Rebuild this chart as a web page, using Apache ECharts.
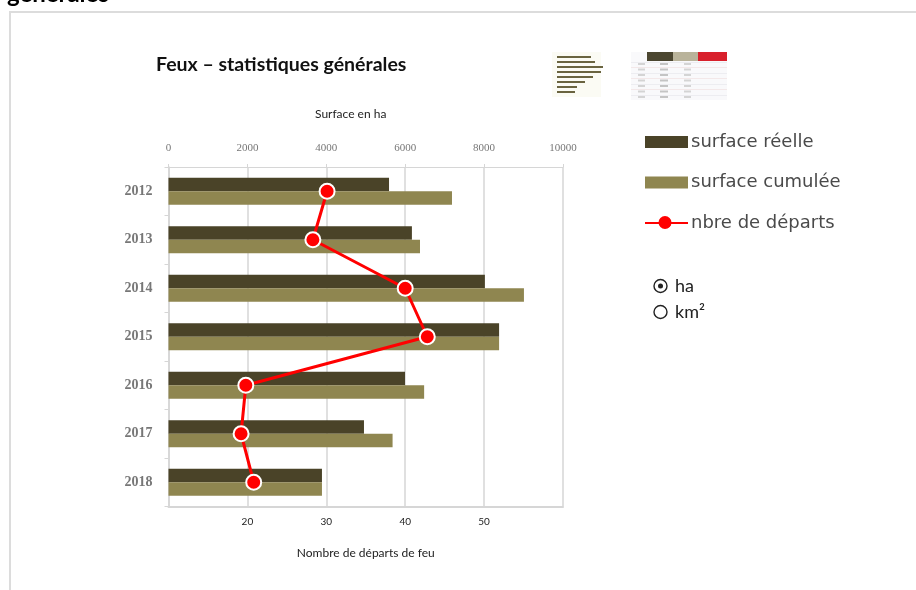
<!DOCTYPE html>
<html><head><meta charset="utf-8">
<style>html,body{margin:0;padding:0;background:#fff}#c{width:916px;height:590px}</style>
<script src="https://cdn.jsdelivr.net/npm/echarts@6/dist/echarts.min.js"></script></head>
<body><div id="c"></div>
<script>
const categories = ['2012','2013','2014','2015','2016','2017','2018'];
const surfaceReelle = [5590,6170,8020,8380,5995,4955,3890];
const surfaceCumulee = [7186,6375,9010,8380,6480,5680,3890];
const departs = [30.1,28.3,40,42.8,19.8,19.2,20.8];
const thumbRows = [34,38,46,44,36,28,20,18];
const tableRows = [1,2,3,4,5,6,7];

const chart = echarts.init(document.getElementById('c'), null, {renderer:'canvas'});
const gridC = '#d6d6d6', labC = '#777777';
const gfx = [
  {type:'polyline',shape:{points:[[10,590],[10,12],[916,12]]},style:{stroke:'#dcdcdc',lineWidth:2,fill:null}},
  {type:'text',left:7,top:-18,style:{text:'générales',font:'bold 24px Lato',fill:'#000'}},
  {type:'text',left:315,top:108,style:{text:'Surface en ha',font:'12px Lato',fill:'#222'}},
  {type:'rect',shape:{x:552,y:52,width:49,height:45},style:{fill:'#fbfbf4'}},
  {type:'rect',shape:{x:631,y:52,width:96,height:48},style:{fill:'#f9f9fb'}},
  {type:'rect',shape:{x:647,y:52,width:26,height:9},style:{fill:'#4b4630'}},
  {type:'rect',shape:{x:673,y:52,width:25,height:9},style:{fill:'#b9b39a'}},
  {type:'rect',shape:{x:698,y:52,width:29,height:9},style:{fill:'#d8202c'}},
  {type:'circle',shape:{cx:660.5,cy:286,r:6.5},style:{fill:'#fff',stroke:'#222',lineWidth:1.4}},
  {type:'circle',shape:{cx:660.5,cy:286,r:2.5},style:{fill:'#222'}},
  {type:'circle',shape:{cx:660.5,cy:312,r:6.5},style:{fill:'#fff',stroke:'#222',lineWidth:1.4}},
  {type:'text',left:675,top:277,style:{text:'ha',font:'18px Lato',fill:'#222'}},
  {type:'text',left:675,top:303,style:{text:'km²',font:'18px Lato',fill:'#222'}},
  {type:'circle',shape:{cx:665,cy:222.5,r:6.5},style:{fill:'#ff0000'},z:10}
];
thumbRows.forEach((w,i)=>gfx.push({type:'rect',shape:{x:557,y:56+i*5,width:w,height:2},style:{fill:'#6a6440'}}));
tableRows.forEach((r,i)=>{
  gfx.push({type:'rect',shape:{x:631,y:62+i*5.5,width:96,height:0.6},style:{fill:i%2?'#eed8d8':'#e2e2e8'}});
  gfx.push({type:'rect',shape:{x:638,y:63+i*5.5,width:7,height:2},style:{fill:'#d4d4d4'}});
  gfx.push({type:'rect',shape:{x:660,y:63+i*5.5,width:8,height:2},style:{fill:'#c4c4c4'}});
  gfx.push({type:'rect',shape:{x:684,y:63+i*5.5,width:7,height:2},style:{fill:'#d4d4d4'}});
});
chart.setOption({
  animation:false,
  backgroundColor:'#fff',
  textStyle:{fontFamily:'Lato'},
  title:{text:'Feux – statistiques générales',left:156,top:55,padding:0,
    textStyle:{fontFamily:'Lato',fontWeight:'bold',fontSize:19.5,color:'#111'}},
  legend:{orient:'vertical',left:644,top:133,itemWidth:43,itemHeight:12,itemGap:22.5,padding:0,
    textStyle:{fontFamily:'DejaVu Sans',fontSize:18,color:'#4a4a4a',padding:[0,0,0,-2]},
    data:[{name:'surface réelle',icon:'rect'},{name:'surface cumulée',icon:'rect'},
      {name:'nbre de départs',itemStyle:{borderWidth:0}}]},
  grid:{left:168.5,top:167,width:394.5,height:339.5,containLabel:false},
  xAxis:[
    {type:'value',position:'top',min:0,max:10000,interval:2000,
     axisLine:{show:true,lineStyle:{color:gridC,width:1}},axisTick:{show:true,length:3,lineStyle:{color:gridC}},
     axisLabel:{fontFamily:'Liberation Serif',fontSize:11,color:labC,margin:13,formatter:v=>String(v)},
     splitLine:{show:true,lineStyle:{color:gridC,width:1.5}}},
    {type:'value',position:'bottom',min:10,max:60,interval:10,
     name:'Nombre de départs de feu',nameLocation:'middle',nameGap:41,
     nameTextStyle:{fontFamily:'Lato',fontSize:12,color:'#222'},
     axisLine:{show:true,onZero:false,lineStyle:{color:gridC,width:2}},axisTick:{show:false},
     axisLabel:{fontFamily:'Lato',fontSize:10,color:'#222',margin:10,showMinLabel:false,showMaxLabel:false},
     splitLine:{show:false}}
  ],
  yAxis:{type:'category',inverse:true,data:categories,
    axisLine:{show:true,onZero:false,lineStyle:{color:gridC,width:1.5}},
    axisTick:{show:true,length:4,lineStyle:{color:gridC}},
    axisLabel:{fontFamily:'Liberation Serif',fontWeight:'bold',fontSize:14,color:labC,margin:16}},
  series:[
    {name:'surface réelle',type:'bar',xAxisIndex:0,data:surfaceReelle,barWidth:13.5,barGap:'0%',
     itemStyle:{color:'#4a4328'},z:2},
    {name:'surface cumulée',type:'bar',xAxisIndex:0,data:surfaceCumulee,barWidth:13.5,barGap:'0%',
     itemStyle:{color:'#8f8650'},z:2},
    {name:'nbre de départs',type:'line',xAxisIndex:1,
     data:departs.map((v,i)=>[v,categories[i]]),
     symbol:'circle',symbolSize:15,z:5,
     lineStyle:{color:'#ff0000',width:3},
     itemStyle:{color:'#ff0000',borderColor:'#fff',borderWidth:2,opacity:1}}
  ],
  graphic:gfx
});
</script></body></html>
